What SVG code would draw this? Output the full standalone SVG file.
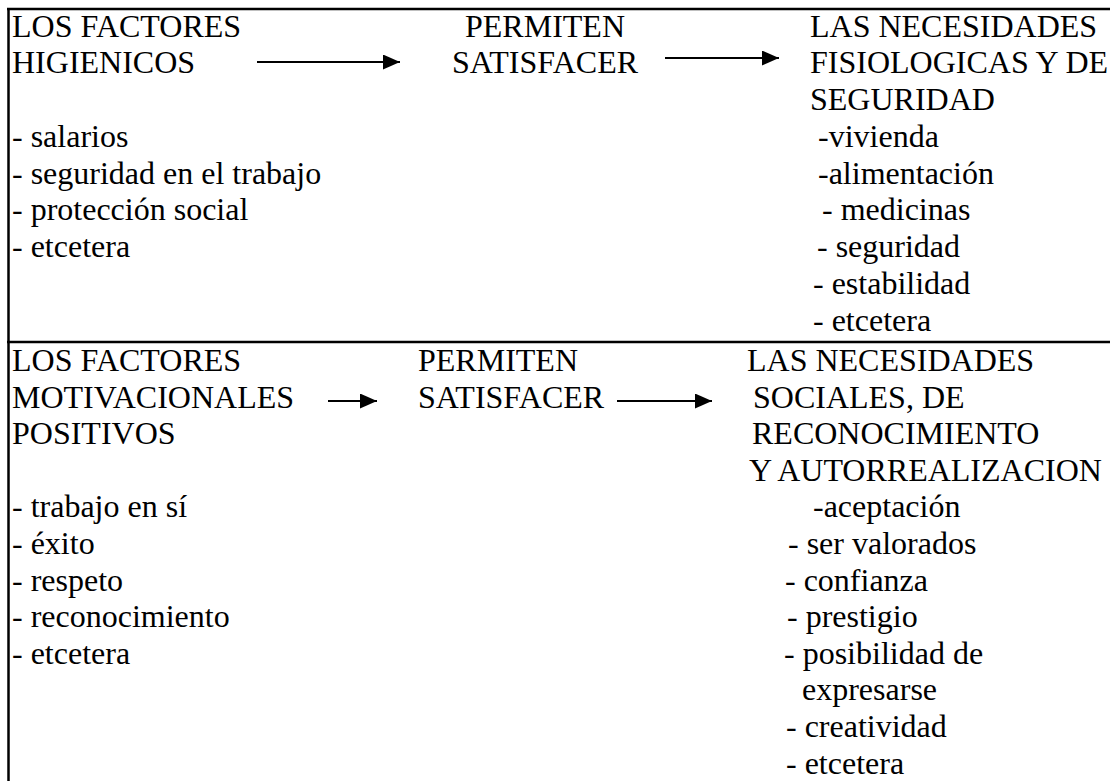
<svg xmlns="http://www.w3.org/2000/svg" width="1110" height="781" viewBox="0 0 1110 781">
<style>
text{font-family:"Liberation Serif","Times New Roman",serif;font-size:32px;fill:#000}
.border{stroke:#000;stroke-width:2.5;fill:none}
.arrow{stroke:#000;stroke-width:1.8;fill:none;marker-end:url(#ah)}
</style>
<defs>
<marker id="ah" markerUnits="userSpaceOnUse" markerWidth="18" markerHeight="16" refX="17" refY="7.5" orient="auto">
<path d="M0,0 L17,7.5 L0,15 z" fill="#000"/>
</marker>
</defs>
<rect width="1110" height="781" fill="#fff"/>
<g id="borders">
<line class="border" x1="8.5" y1="9" x2="8.5" y2="781"/>
<line class="border" x1="7" y1="9" x2="1110" y2="9"/>
<line class="border" x1="7" y1="342" x2="1110" y2="342"/>
</g>
<g id="connectors">
<line class="arrow" x1="257" y1="62" x2="400" y2="62"/>
<line class="arrow" x1="665" y1="58" x2="779" y2="58"/>
<line class="arrow" x1="328" y1="401" x2="377" y2="401"/>
<line class="arrow" x1="617" y1="401" x2="712" y2="401"/>
</g>
<g id="node-higienicos">
<text x="12" y="36.5">LOS FACTORES</text>
<text x="12" y="73.2">HIGIENICOS</text>
<text x="12" y="146.8">- salarios</text>
<text x="12" y="183.6">- seguridad en el trabajo</text>
<text x="12" y="220.4">- protección social</text>
<text x="12" y="257.2">- etcetera</text>
</g>
<g id="node-permiten-1">
<text x="545" y="36.5" text-anchor="middle">PERMITEN</text>
<text x="545" y="73.2" text-anchor="middle">SATISFACER</text>
</g>
<g id="node-necesidades-1">
<text x="810" y="36.5">LAS NECESIDADES</text>
<text x="810" y="73.2">FISIOLOGICAS Y DE</text>
<text x="810" y="110">SEGURIDAD</text>
<text x="818" y="146.8">-vivienda</text>
<text x="818" y="183.6">-alimentación</text>
<text x="822" y="220.4">- medicinas</text>
<text x="817" y="257.2">- seguridad</text>
<text x="813" y="294">- estabilidad</text>
<text x="813" y="330.8">- etcetera</text>
</g>
<g id="node-motivacionales">
<text x="12" y="371">LOS FACTORES</text>
<text x="12" y="407.6">MOTIVACIONALES</text>
<text x="12" y="444.2">POSITIVOS</text>
<text x="12" y="517.4">- trabajo en sí</text>
<text x="12" y="554">- éxito</text>
<text x="12" y="590.6">- respeto</text>
<text x="12" y="627.2">- reconocimiento</text>
<text x="12" y="663.8">- etcetera</text>
</g>
<g id="node-permiten-2">
<text x="418" y="371">PERMITEN</text>
<text x="418" y="407.6">SATISFACER</text>
</g>
<g id="node-necesidades-2">
<text x="747" y="371">LAS NECESIDADES</text>
<text x="753" y="407.6">SOCIALES, DE</text>
<text x="752" y="444.2">RECONOCIMIENTO</text>
<text x="749" y="480.8">Y AUTORREALIZACION</text>
<text x="813" y="517.4">-aceptación</text>
<text x="788" y="554">- ser valorados</text>
<text x="785" y="590.6">- confianza</text>
<text x="787" y="627.2">- prestigio</text>
<text x="784" y="663.8">- posibilidad de</text>
<text x="802" y="700.4">expresarse</text>
<text x="786" y="737">- creatividad</text>
<text x="786" y="773.6">- etcetera</text>
</g>
</svg>
